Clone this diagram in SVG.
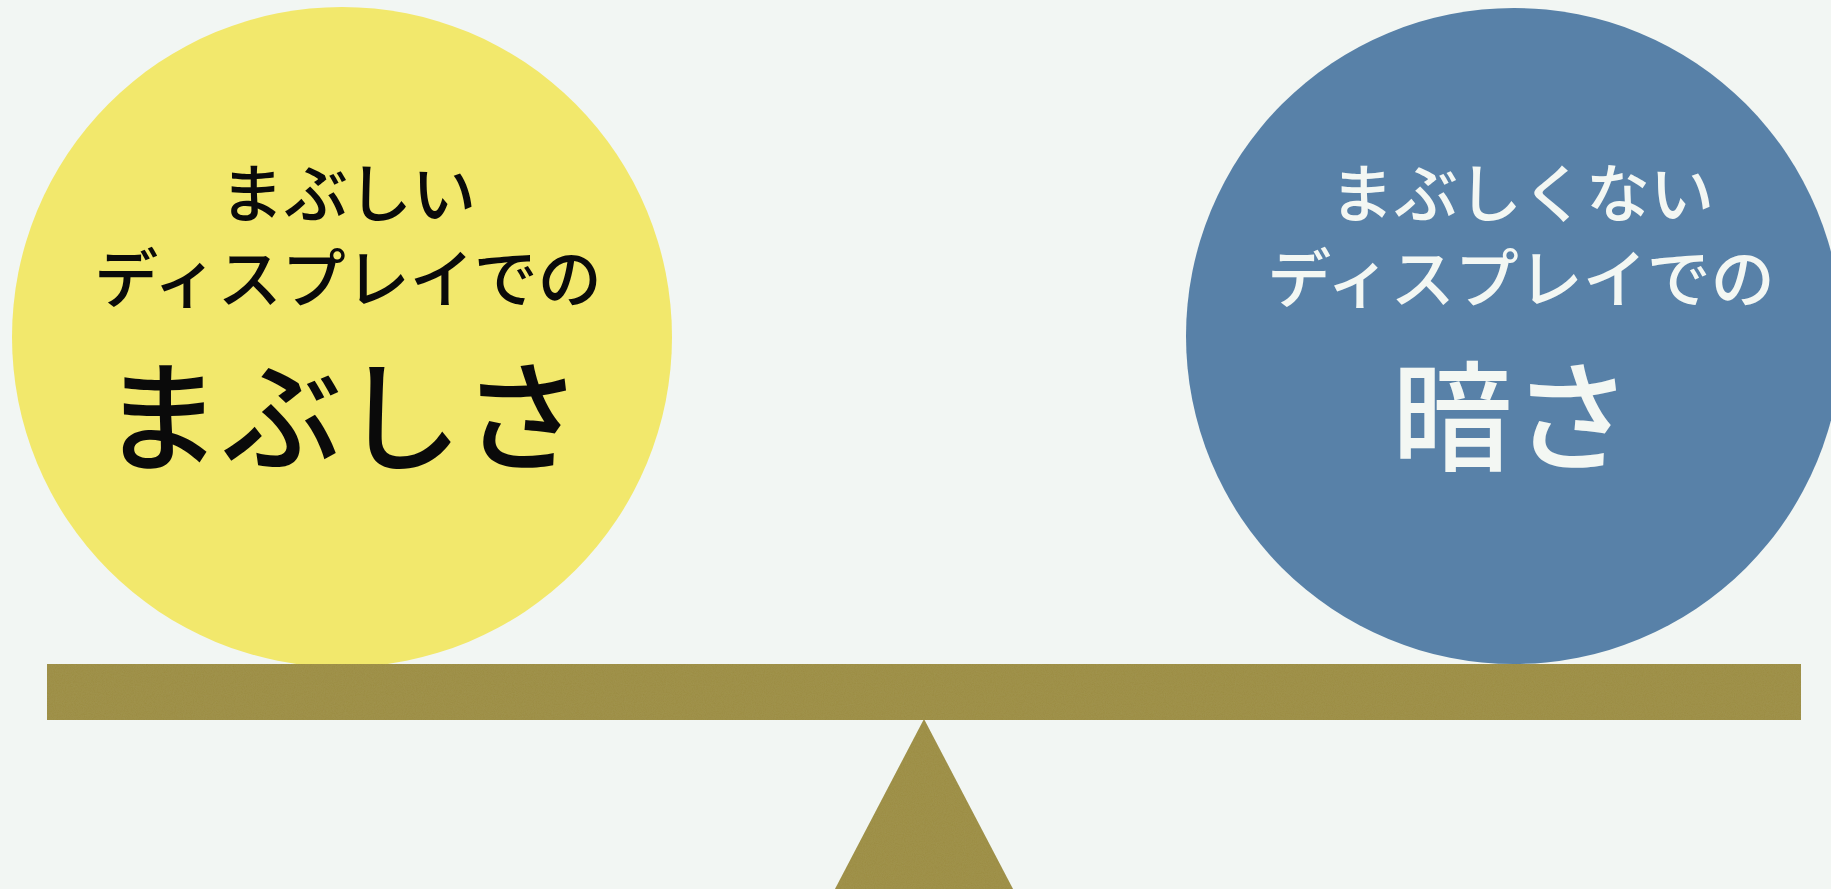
<svg xmlns="http://www.w3.org/2000/svg" width="1831" height="889" viewBox="0 0 1831 889">
  <defs>
    <filter id="grain" x="0" y="0" width="100%" height="100%">
      <feTurbulence type="fractalNoise" baseFrequency="0.9" numOctaves="3" seed="4" result="n"/>
      <feColorMatrix in="n" type="matrix" values="0 0 0 0 0.45  0 0 0 0 0.4  0 0 0 0 0.15  0 0 0 0.25 0" result="c"/>
      <feComposite in="c" in2="SourceGraphic" operator="in" result="t"/>
      <feMerge><feMergeNode in="SourceGraphic"/><feMergeNode in="t"/></feMerge>
    </filter>
    <style>
      .t { font-family: "Noto Sans CJK JP", "Noto Sans", sans-serif; font-weight: 500; text-anchor: middle; }
      .s { font-size: 64px; }
      .b { font-size: 120px; }
      .dark { fill: #0a0a0a; }
      .light { fill: #f3f7f3; }
      .olive { fill: #9b8c42; }
    </style>
  </defs>
  <rect width="1831" height="889" fill="#f2f6f3"/>
  <g id="left-ball">
    <circle cx="342" cy="337" r="330" fill="#f2e86c"/>
    <text class="t s dark" x="348" y="217">まぶしい</text>
    <text class="t s dark" x="348" y="302">ディスプレイでの</text>
    <text class="t b dark" x="342" y="462">まぶしさ</text>
  </g>
  <g id="right-ball">
    <circle cx="1514" cy="336" r="328" fill="#5881a8"/>
    <text class="t s light" x="1522" y="217">まぶしくない</text>
    <text class="t s light" x="1521" y="302">ディスプレイでの</text>
    <text class="t b light" x="1512" y="462">暗さ</text>
  </g>
  <g id="seesaw" filter="url(#grain)">
    <rect class="olive" x="47" y="664" width="1754" height="56"/>
    <polygon class="olive" points="924,719 835,889 1013,889"/>
  </g>
  <g id="connectors"></g>
</svg>
